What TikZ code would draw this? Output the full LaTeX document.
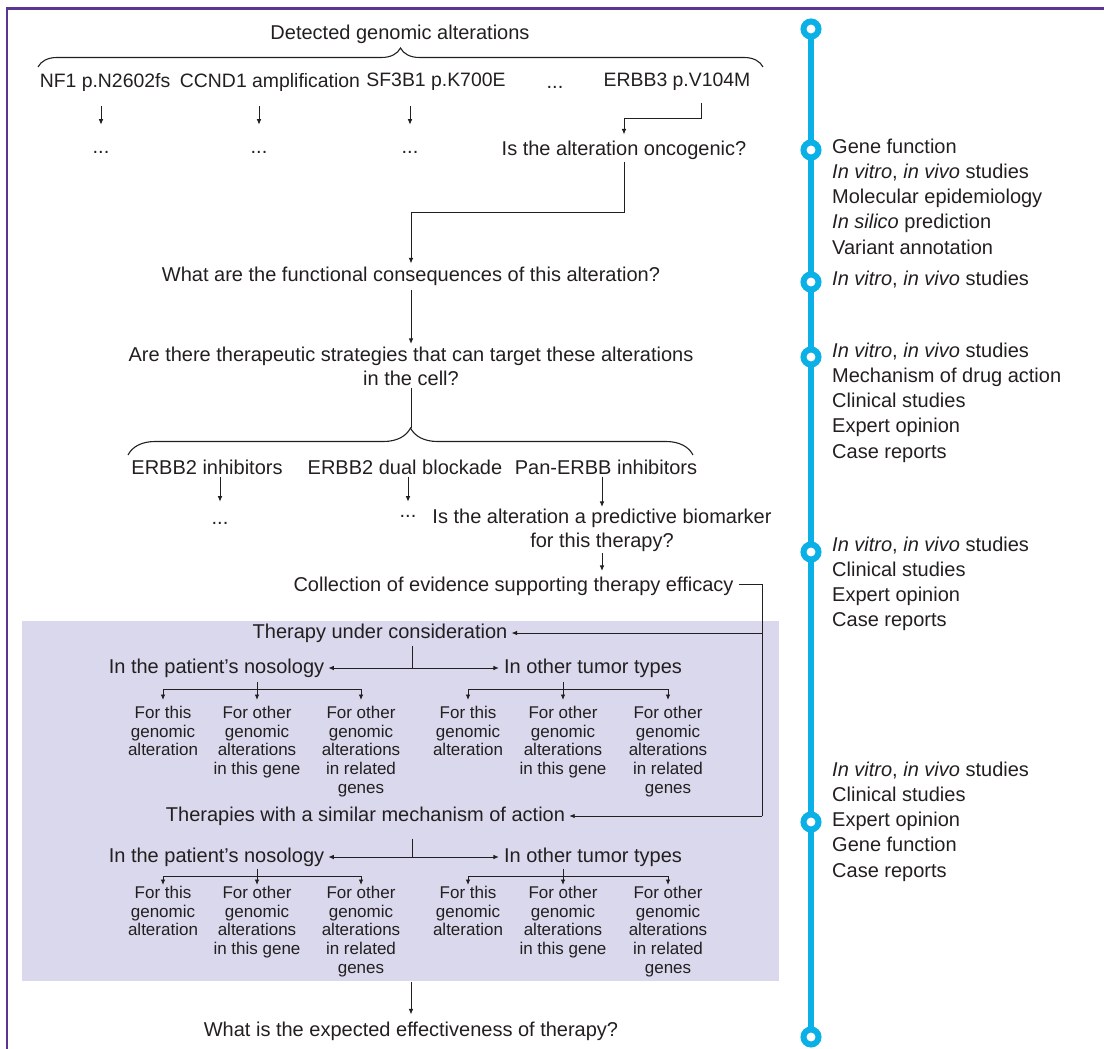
\documentclass[tikz,border=0pt]{standalone}
\usepackage{fontspec}
\setmainfont{Liberation Sans}
\usepackage{xcolor}
\usetikzlibrary{arrows.meta,decorations.pathreplacing,calc}
\definecolor{ink}{HTML}{231F20}
\definecolor{tlblue}{HTML}{0BB0E6}
\definecolor{lav}{HTML}{D9D8EC}
\definecolor{frame}{HTML}{5B3594}
\newcommand\fsmain{\fontsize{20}{24}\selectfont}
\newcommand\fsrow{\fontsize{19.4}{24}\selectfont}
\newcommand\fssub{\fontsize{17}{18.7}\selectfont}
\newcommand\fsev{\fontsize{20}{25.2}\selectfont}

\begin{document}
\begin{tikzpicture}[x=1pt,y=-1pt,font=\fsmain,
		txt/.style={inner sep=0pt,text=ink,align=center},
		sub/.style={inner sep=0pt,text=ink,font=\fssub,align=center,anchor=north},
		ev/.style={inner sep=0pt,text=ink,font=\fsev,align=left,anchor=west},
		ar/.style={-{Latex[length=5.5pt,width=4.6pt]},draw=ink,line width=0.95pt},
		ln/.style={draw=ink,line width=0.95pt},
		brc/.style={draw=ink,line width=1.1pt,decorate,decoration={brace,amplitude=#1}},
		ring/.style={circle,draw=tlblue,fill=white,line width=6pt,minimum size=15pt,inner sep=0pt},
		tl/.style={draw=tlblue,line width=5.5pt},
		frm/.style={draw=frame,line width=2.6pt},
		panel/.style={fill=lav,inner sep=0pt}]
		\useasboundingbox (0,0) rectangle (1104,1049);
		\draw[frm] (7,1049) -- (7,8.5) -- (1104,8.5);

		% shaded panel
		\node[panel,minimum width=757pt,minimum height=360pt] (box) at (400.5,801) {};

		% detected alterations
		\node[txt] (title) at (400,34) {Detected genomic alterations};
		\draw[brc=19pt] (38,67) -- (763,67);
		\node[txt,font=\fsrow] (nf1)   at (105,82)  {NF1 p.N2602fs};
		\node[txt,font=\fsrow] (ccnd)  at (270,82)  {CCND1 amplification};
		\node[txt,font=\fsrow] (sf3)   at (436,82)  {SF3B1 p.K700E};
		\node[txt] (dt0)   at (555,87)  {...};
		\node[txt,font=\fsrow] (erbb3) at (677,82)  {ERBB3 p.V104M};
		\node[txt] (dt1) at (101,152) {...};
		\node[txt] (dt2) at (259,152) {...};
		\node[txt] (dt3) at (410,152) {...};
		\node[txt] (onco) at (624,150) {Is the alteration oncogenic?};
		\draw[ar,shorten <=15pt,shorten >=26pt] (dt1 |- nf1.south) -- (dt1.north);
		\draw[ar,shorten <=15pt,shorten >=26pt] (dt2 |- ccnd.south) -- (dt2.north);
		\draw[ar,shorten <=15pt,shorten >=26pt] (dt3 |- sf3.south) -- (dt3.north);
		\draw[ar,shorten <=12pt,shorten >=6pt] ([xshift=24pt]erbb3.south) -- ++(0,27) -| (onco.north);

		% consequences and strategies
		\node[txt] (func)  at (411,276) {What are the functional consequences of this alteration?};
		\node[txt] (strat) at (411,366) {Are there therapeutic strategies that can target these alterations\\in the cell?};
		\draw[ar,shorten <=2pt,shorten >=3pt] (onco.south) -- ++(0,53) -| (func.north);
		\draw[ar,shorten <=4pt,shorten >=2.6pt] (func.south) -- (strat.north);
		\coordinate (b2) at (411,428);
		\draw[ln,shorten <=2pt] (strat.south) -- (b2);
		\draw[brc=27pt] (128,455) -- (693,455);

		\node[txt] (inh1) at (207,467) {ERBB2 inhibitors};
		\node[txt] (dual) at (405,467) {ERBB2 dual blockade};
		\node[txt] (pan)  at (606,467) {Pan-ERBB inhibitors};
		\node[txt] (dt4)  at (220,523) {...};
		\node[txt] (dt5)  at (408,516) {...};
		\node[txt] (pred) at (602,530.5) {Is the alteration a predictive biomarker\\for this therapy?};
		\node[txt] (coll) at (513.5,586) {Collection of evidence supporting therapy efficacy};
		\draw[ar,shorten <=2pt,shorten >=20pt] (dt4 |- inh1.south) -- (dt4.north);
		\draw[ar,shorten <=2pt,shorten >=13pt] (dt5 |- dual.south) -- (dt5.north);
		\draw[ar,shorten <=2pt,shorten >=2pt] (pred.north |- pan.south) -- (pred.north);
		\draw[ar,shorten <=1pt,shorten >=5.5pt] (pred.south) -- (pred |- coll.north);

		% evidence in the panel
		\node[txt] (ther)    at (380,633)   {Therapy under consideration};
		\node[txt] (simmech) at (365.5,816) {Therapies with a similar mechanism of action};
		\coordinate (rb) at (762,816);
		\draw[ln] ([xshift=5pt,yshift=2pt]coll.east) -| (rb);
		\draw[ar,shorten >=4pt] (rb |- ther.east) -- (ther.east);
		\draw[ar,shorten >=4pt] (rb) -- (simmech.east);

		\node[txt] (pn1) at (216.5,668) {In the patient’s nosology};
		\node[txt] (ot1) at (593,668)   {In other tumor types};
		\coordinate (m1) at (412,668);
		\draw[ln,shorten <=3pt] (ther.south -| m1) -- (m1);
		\draw[ar,shorten >=4pt] (m1) -- (m1 -| pn1.east);
		\draw[ar,shorten >=5pt] (m1) -- (m1 -| ot1.west);

		\node[sub] (p1a) at (163,706) {For this\\genomic\\alteration};
		\node[sub] (p1b) at (257,706) {For other\\genomic\\alterations\\in this gene};
		\node[sub] (p1c) at (361,706) {For other\\genomic\\alterations\\in related\\genes};
		\node[sub] (o1a) at (468,706) {For this\\genomic\\alteration};
		\node[sub] (o1b) at (563,706) {For other\\genomic\\alterations\\in this gene};
		\node[sub] (o1c) at (668,706) {For other\\genomic\\alterations\\in related\\genes};
		\coordinate (j1) at (257,689);
		\coordinate (j2) at (563,689);
		\draw[ln,shorten <=4pt] (pn1.south -| j1) -- (j1);
		\draw[ln,shorten <=4pt] (ot1.south -| j2) -- (j2);
		\draw[ln] (j1 -| p1a) -- (j1 -| p1c);
		\draw[ln] (j2 -| o1a) -- (j2 -| o1c);
		\draw[ar,shorten >=6pt] (j1 -| p1a) -- (p1a.north);
		\draw[ar,shorten >=6pt] (j1) -- (p1b.north);
		\draw[ar,shorten >=6pt] (j1 -| p1c) -- (p1c.north);
		\draw[ar,shorten >=6pt] (j2 -| o1a) -- (o1a.north);
		\draw[ar,shorten >=6pt] (j2) -- (o1b.north);
		\draw[ar,shorten >=6pt] (j2 -| o1c) -- (o1c.north);

		\node[txt] (pn2) at (216.5,857) {In the patient’s nosology};
		\node[txt] (ot2) at (593,857)   {In other tumor types};
		\coordinate (m2) at (412,857);
		\draw[ln,shorten <=13pt] (simmech.south -| m2) -- (m2);
		\draw[ar,shorten >=4pt] (m2) -- (m2 -| pn2.east);
		\draw[ar,shorten >=5pt] (m2) -- (m2 -| ot2.west);

		\node[sub] (p2a) at (163,886) {For this\\genomic\\alteration};
		\node[sub] (p2b) at (257,886) {For other\\genomic\\alterations\\in this gene};
		\node[sub] (p2c) at (361,886) {For other\\genomic\\alterations\\in related\\genes};
		\node[sub] (o2a) at (468,886) {For this\\genomic\\alteration};
		\node[sub] (o2b) at (563,886) {For other\\genomic\\alterations\\in this gene};
		\node[sub] (o2c) at (668,886) {For other\\genomic\\alterations\\in related\\genes};
		\coordinate (j3) at (257,876);
		\coordinate (j4) at (563,876);
		\draw[ln,shorten <=2pt] (pn2.south -| j3) -- (j3);
		\draw[ln,shorten <=2pt] (ot2.south -| j4) -- (j4);
		\draw[ln] (j3 -| p2a) -- (j3 -| p2c);
		\draw[ln] (j4 -| o2a) -- (j4 -| o2c);
		\draw[ar,shorten >=1pt] (j3 -| p2a) -- (p2a.north);
		\draw[ar,shorten >=1pt] (j3) -- (p2b.north);
		\draw[ar,shorten >=1pt] (j3 -| p2c) -- (p2c.north);
		\draw[ar,shorten >=1pt] (j4 -| o2a) -- (o2a.north);
		\draw[ar,shorten >=1pt] (j4) -- (o2b.north);
		\draw[ar,shorten >=1pt] (j4 -| o2c) -- (o2c.north);

		\node[txt] (final) at (411,1031) {What is the expected effectiveness of therapy?};
		\draw[ar,shorten <=1pt,shorten >=7pt] (box.south -| final) -- (final.north);

		% timeline on the right
		\coordinate (tt) at (811,29);
		\coordinate (tb) at (811,1037);
		\draw[tl] (tt) -- (tb);
		\node[ring] (t0) at (811,29) {};
		\node[ring] (t1) at (811,150) {};
		\node[ring] (t2) at (811,282) {};
		\node[ring] (t3) at (811,357) {};
		\node[ring] (t4) at (811,552) {};
		\node[ring] (t5) at (811,822) {};
		\node[ring] (t6) at (811,1037) {};

		\node[ev] (ev1) at (832,196.5) {Gene function\\{\itshape In vitro}, {\itshape in vivo} studies\\Molecular epidemiology\\{\itshape In silico} prediction\\Variant annotation};
		\node[ev] (ev2) at (832,280) {{\itshape In vitro}, {\itshape in vivo} studies};
		\node[ev] (ev3) at (832,402.5) {{\itshape In vitro}, {\itshape in vivo} studies\\Mechanism of drug action\\Clinical studies\\Expert opinion\\Case reports};
		\node[ev] (ev4) at (832,584) {{\itshape In vitro}, {\itshape in vivo} studies\\Clinical studies\\Expert opinion\\Case reports};
		\node[ev] (ev5) at (832,821.5) {{\itshape In vitro}, {\itshape in vivo} studies\\Clinical studies\\Expert opinion\\Gene function\\Case reports};
	\end{tikzpicture}
\end{document}
